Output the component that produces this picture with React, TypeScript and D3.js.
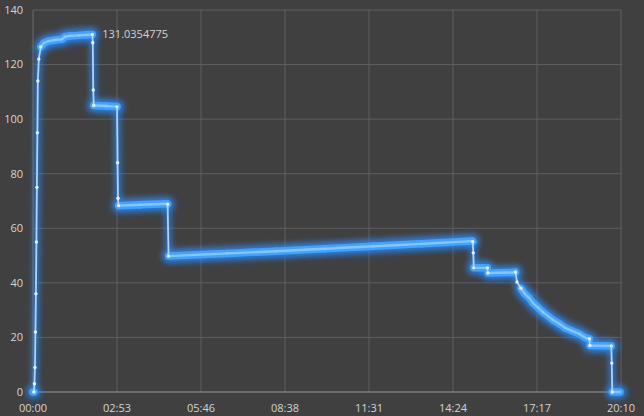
import React from "react";
import * as d3 from "d3";

// Elapsed time in minutes and measured values
const timeMinutes = [
  0, 2, 3, 4, 5, 6, 7, 8, 9, 10, 12, 16, 22, 30, 45, 60, 66, 76, 95, 110, 122,
  123, 124, 125, 150, 172,
  173, 174, 175, 176, 220, 276,
  277, 279, 400, 500, 600, 700, 800, 904,
  905, 906, 907, 935, 936, 990, 993,
  996, 1004, 1012, 1021, 1029, 1039, 1049, 1060, 1070, 1083, 1095, 1109, 1124, 1138, 1145,
  1146, 1190, 1191, 1192, 1208,
];
const values = [
  0, 0, 3, 9, 22, 36, 55, 75, 95, 114, 122, 126.5, 127.8, 128.5, 129, 129.3, 130.2, 130.5, 130.7, 130.9, 131.0354775,
  128, 110.7, 105, 104.8, 104.6,
  104.5, 84, 71, 68.3, 68.6, 69,
  68.8, 49.8, 50.8, 51.6, 52.5, 53.4, 54.3, 55.3,
  55.1, 51, 45.5, 45.5, 43.6, 43.8, 44,
  40.3, 38, 36, 34.5, 32.6, 31, 29.3, 27.8, 26.4, 25, 23.5, 22.4, 21.3, 19.8, 19.5,
  17, 16.9, 10.6, 0, 0,
];
const yTicks = [0, 20, 40, 60, 80, 100, 120, 140];
const xTickLabels = ["00:00", "02:53", "05:46", "08:38", "11:31", "14:24", "17:17", "20:10"];
const peakLabel = "131.0354775";

const W = 644, H = 416;
const M = { left: 33, right: 23, top: 10, bottom: 24 };

export default function App() {
  const x = d3.scaleLinear().domain([0, 1210]).range([M.left, W - M.right]);
  const y = d3.scaleLinear().domain([0, 140]).range([H - M.bottom, M.top]);
  const pts = timeMinutes.map((t, i) => [x(t), y(values[i])] as [number, number]);

  const thick: [number, number][][] = [];
  const thin: [number, number][][] = [];
  for (let i = 1; i < pts.length; i++) {
    const a = pts[i - 1], b = pts[i];
    const dx = Math.abs(b[0] - a[0]), dy = Math.abs(b[1] - a[1]);
    if (dy <= dx * 1.6) thick.push([a, b]);
    else thin.push([a, b]);
  }
  const line = d3.line();
  const xTickVals = xTickLabels.map((_, i) => (1210 / 7) * i);
  const dotIdx = new Set<number>();
  thin.forEach((s) => {
    pts.forEach((p, i) => {
      if (p === s[0] || p === s[1]) dotIdx.add(i);
    });
  });
  const peakIdx = values.indexOf(131.0354775);

  const font = "'Open Sans', 'DejaVu Sans', sans-serif";
  return (
    <svg width={W} height={H} style={{ position: "absolute", left: 0, top: 0, background: "#404040" }}>
      <defs>
        <filter id="glow" x="-20%" y="-20%" width="140%" height="140%">
          <feGaussianBlur stdDeviation="3" />
        </filter>
      </defs>
      <rect width={W} height={H} fill="#404040" />
      {yTicks.filter((v) => v > 0).map((v) => (
        <line key={v} x1={M.left} x2={W - M.right} y1={y(v)} y2={y(v)} stroke="#5e5e5e" strokeWidth={1} />
      ))}
      {xTickVals.map((t, i) => (
        <line key={i} x1={x(t)} x2={x(t)} y1={M.top} y2={y(0)} stroke={i === 0 ? "#6a6a6a" : "#5e5e5e"} strokeWidth={1} />
      ))}
      <line x1={M.left} x2={W - M.right} y1={y(0)} y2={y(0)} stroke="#9a9a9a" strokeWidth={1} />
      {yTicks.map((v) => (
        <text key={v} x={23} y={y(v)} dy="0.35em" textAnchor="end" fill="#d4d4d4" fontSize={11} fontFamily={font}>{v}</text>
      ))}
      {xTickVals.map((t, i) => (
        <text key={i} x={x(t)} y={412} textAnchor="middle" fill="#d4d4d4" fontSize={11} fontFamily={font}>{xTickLabels[i]}</text>
      ))}
      <g filter="url(#glow)" opacity={0.9}>
        {thick.map((s, i) => (
          <path key={i} d={line(s) || ""} stroke="#2b8cff" strokeWidth={13} strokeLinecap="round" fill="none" />
        ))}
        {thin.map((s, i) => (
          <path key={i} d={line(s) || ""} stroke="#2b8cff" strokeWidth={5} strokeLinecap="round" fill="none" />
        ))}
      </g>
      {thick.map((s, i) => (
        <path key={i} d={line(s) || ""} stroke="#44a2ff" strokeWidth={7.5} strokeLinecap="round" fill="none" />
      ))}
      {thin.map((s, i) => (
        <path key={i} d={line(s) || ""} stroke="#a9d4ff" strokeWidth={1.8} strokeLinecap="round" fill="none" />
      ))}
      {thick.map((s, i) => (
        <path key={i} d={line(s) || ""} stroke="#8fcdff" strokeWidth={2.4} strokeLinecap="round" fill="none" opacity={0.85} />
      ))}
      {[...dotIdx].map((i) => (
        <circle key={i} cx={pts[i][0]} cy={pts[i][1]} r={1.7} fill="#e2f1ff" />
      ))}
      <text x={pts[peakIdx][0] + 10} y={pts[peakIdx][1] + 4} fill="#d4d4d4" fontSize={11} fontFamily={font}>{peakLabel}</text>
    </svg>
  );
}
